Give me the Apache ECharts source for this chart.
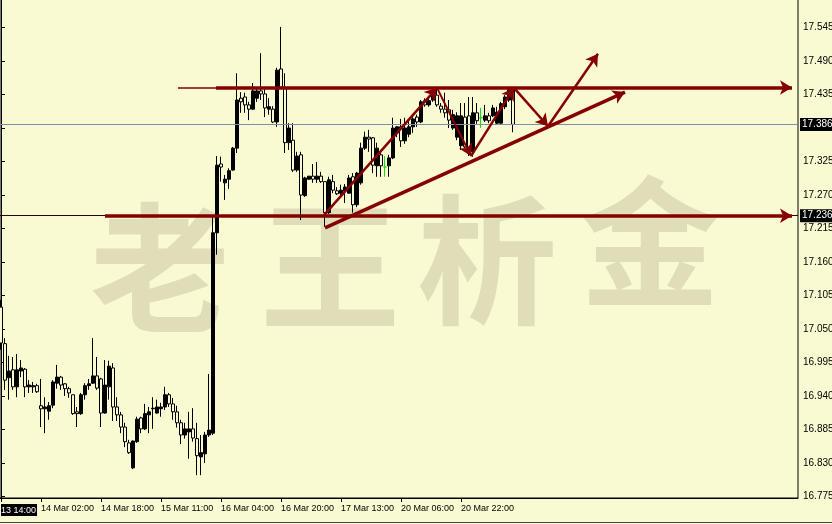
<!DOCTYPE html>
<html>
<head>
<meta charset="utf-8">
<title>老王析金</title>
<script src="https://cdn.jsdelivr.net/npm/echarts@6/dist/echarts.min.js"></script>
<style>
  html, body { margin: 0; padding: 0; background: #fafad2; }
  #main { width: 832px; height: 524px; }
</style>
</head>
<body>
<div id="main"></div>
<script>
// 右侧价格刻度
var yTicks = [16.775, 16.830, 16.885, 16.940, 16.995, 17.050, 17.105, 17.160,
  17.215, 17.270, 17.325, 17.380, 17.435, 17.490, 17.545];
// 底部时间标签（按K线序号）
var xLabelIdx = [0, 10, 25, 40, 55, 70, 85, 100, 115];
var xLabelText = ['13 14:00', '14 Mar 02:00', '14 Mar 18:00', '15 Mar 11:00', '16 Mar 04:00',
  '16 Mar 20:00', '17 Mar 13:00', '20 Mar 06:00', '20 Mar 22:00'];
// K线 [开, 收, 低, 高]
var ohlc = [
  [17.086, 17.027, 17.016, 17.098], [17.026, 16.966, 16.950, 17.035], [16.970, 16.981, 16.934, 17.006],
  [16.983, 16.955, 16.950, 17.004], [16.955, 16.983, 16.938, 17.009], [16.981, 16.986, 16.971, 16.999],
  [16.984, 16.955, 16.938, 16.986], [16.955, 16.958, 16.945, 16.966], [16.955, 16.957, 16.945, 16.963],
  [16.957, 16.947, 16.945, 16.960], [16.924, 16.919, 16.889, 16.968], [16.919, 16.922, 16.879, 16.938],
  [16.915, 16.924, 16.901, 16.930], [16.925, 16.963, 16.920, 16.966], [16.961, 16.971, 16.952, 16.991],
  [16.971, 16.958, 16.950, 16.973], [16.960, 16.952, 16.940, 16.961], [16.952, 16.945, 16.937, 16.955],
  [16.942, 16.911, 16.909, 16.942], [16.914, 16.911, 16.889, 16.922], [16.911, 16.942, 16.909, 16.945],
  [16.942, 16.957, 16.934, 16.961], [16.957, 16.960, 16.950, 16.968], [16.961, 16.973, 16.960, 17.035],
  [16.973, 16.953, 16.950, 17.004], [16.968, 16.912, 16.889, 16.970], [16.912, 16.958, 16.911, 16.999],
  [16.955, 16.989, 16.934, 16.998], [16.986, 16.922, 16.899, 16.994], [16.922, 16.909, 16.899, 16.938],
  [16.909, 16.889, 16.879, 16.914], [16.889, 16.865, 16.856, 16.896], [16.863, 16.847, 16.845, 16.868],
  [16.822, 16.866, 16.820, 16.867], [16.865, 16.902, 16.863, 16.906], [16.904, 16.886, 16.879, 16.906],
  [16.886, 16.911, 16.884, 16.927], [16.909, 16.914, 16.879, 16.922], [16.919, 16.920, 16.886, 16.938],
  [16.912, 16.922, 16.911, 16.934], [16.919, 16.922, 16.906, 16.929], [16.922, 16.942, 16.917, 16.955],
  [16.942, 16.927, 16.922, 16.945], [16.927, 16.914, 16.901, 16.937], [16.914, 16.896, 16.888, 16.924],
  [16.896, 16.876, 16.861, 16.901], [16.876, 16.886, 16.870, 16.896], [16.881, 16.886, 16.837, 16.914],
  [16.886, 16.871, 16.865, 16.920], [16.870, 16.842, 16.810, 16.896], [16.840, 16.847, 16.810, 16.876],
  [16.845, 16.876, 16.830, 16.881], [16.876, 16.884, 16.873, 16.976], [16.879, 17.208, 16.876, 17.234],
  [17.208, 17.319, 17.172, 17.334], [17.321, 17.316, 17.292, 17.333], [17.290, 17.296, 17.262, 17.303],
  [17.296, 17.310, 17.280, 17.314], [17.311, 17.347, 17.310, 17.349], [17.347, 17.426, 17.339, 17.470],
  [17.429, 17.423, 17.405, 17.439], [17.431, 17.418, 17.405, 17.438], [17.418, 17.411, 17.393, 17.423],
  [17.411, 17.441, 17.410, 17.454], [17.429, 17.441, 17.423, 17.447], [17.441, 17.436, 17.426, 17.503],
  [17.436, 17.413, 17.398, 17.447], [17.411, 17.415, 17.402, 17.429], [17.411, 17.390, 17.388, 17.416],
  [17.390, 17.475, 17.382, 17.479], [17.477, 17.447, 17.447, 17.546], [17.447, 17.356, 17.339, 17.470],
  [17.356, 17.380, 17.344, 17.388], [17.360, 17.311, 17.308, 17.388], [17.311, 17.334, 17.308, 17.341],
  [17.336, 17.270, 17.229, 17.341], [17.269, 17.298, 17.267, 17.300], [17.296, 17.301, 17.295, 17.301],
  [17.301, 17.296, 17.290, 17.321], [17.296, 17.301, 17.290, 17.324], [17.301, 17.292, 17.290, 17.308],
  [17.292, 17.241, 17.218, 17.292], [17.241, 17.295, 17.239, 17.300], [17.292, 17.278, 17.273, 17.303],
  [17.277, 17.272, 17.270, 17.283], [17.273, 17.278, 17.267, 17.287], [17.277, 17.283, 17.257, 17.288],
  [17.273, 17.298, 17.273, 17.303], [17.300, 17.254, 17.241, 17.306], [17.254, 17.306, 17.250, 17.308],
  [17.290, 17.347, 17.287, 17.356], [17.347, 17.365, 17.344, 17.374], [17.365, 17.362, 17.341, 17.377],
  [17.364, 17.319, 17.306, 17.365], [17.318, 17.347, 17.300, 17.356], [17.336, 17.318, 17.300, 17.341],
  [17.316, 17.316, 17.300, 17.334], [17.318, 17.331, 17.300, 17.336], [17.331, 17.380, 17.329, 17.397],
  [17.372, 17.382, 17.365, 17.383], [17.382, 17.359, 17.349, 17.395], [17.359, 17.380, 17.354, 17.397],
  [17.370, 17.382, 17.365, 17.393], [17.382, 17.395, 17.372, 17.398], [17.398, 17.390, 17.382, 17.402],
  [17.390, 17.423, 17.388, 17.426], [17.425, 17.418, 17.415, 17.429], [17.418, 17.425, 17.415, 17.431],
  [17.426, 17.439, 17.423, 17.444], [17.434, 17.418, 17.415, 17.443], [17.416, 17.411, 17.405, 17.421],
  [17.411, 17.405, 17.397, 17.438], [17.410, 17.393, 17.380, 17.426], [17.380, 17.402, 17.377, 17.410],
  [17.365, 17.400, 17.360, 17.406], [17.351, 17.400, 17.344, 17.421], [17.398, 17.349, 17.347, 17.421],
  [17.400, 17.339, 17.334, 17.431], [17.341, 17.405, 17.333, 17.431], [17.405, 17.392, 17.387, 17.421],
  [17.397, 17.397, 17.380, 17.413], [17.393, 17.400, 17.390, 17.418], [17.400, 17.392, 17.388, 17.405],
  [17.400, 17.413, 17.398, 17.418], [17.388, 17.406, 17.387, 17.415], [17.388, 17.420, 17.387, 17.423],
  [17.415, 17.431, 17.411, 17.434], [17.426, 17.443, 17.423, 17.446], [17.444, 17.386, 17.373, 17.446]
];
var bidPrice = 17.386;      // 现价线
var supportPrice = 17.236;  // 支撑线
var resistPrice = 17.4466;  // 压力线
// 画线：[起点序号, 起点价, 终点序号, 终点价, 线宽, 是否带箭头]
var arrows = [
  [44.25, resistPrice, 53.75, resistPrice, 1.5, false],
  [53.75, resistPrice, 197.75, resistPrice, 3.5, true],
  [26, supportPrice, 197.75, supportPrice, 3.5, true],
  [80.75, 17.237, 109, 17.446, 2.5, true],
  [109, 17.446, 117.5, 17.334, 2, true],
  [117.5, 17.334, 128.25, 17.446, 2.5, true],
  [128.25, 17.446, 136.75, 17.383, 2.5, true],
  [136.75, 17.383, 149.25, 17.502, 2.5, true],
  [81, 17.216, 156, 17.439, 3.5, true]
];

var bg = '#fafad2';
var red = '#850000';
var doji = '#11dd11';
var axisFont = "'Liberation Sans', sans-serif";

var chart = echarts.init(document.getElementById('main'));

var candleData = ohlc.map(function (d, i) {
  var row = [i].concat(d);
  if (d[0] === d[1]) {
    return { value: row, itemStyle: { color: doji, color0: doji, borderColor: doji, borderColor0: doji, borderColorDoji: doji } };
  }
  return row;
});

function priceLine(p, color) {
  return [
    { coord: [-0.25, p], symbol: 'none', lineStyle: { color: color, width: 1 },
      label: { show: true, position: 'end', distance: 2, formatter: p.toFixed(3),
        backgroundColor: '#000', color: '#fff', padding: [2, 2, 1, 2],
        fontSize: 10, fontFamily: axisFont } },
    { coord: [199.25, p], symbol: 'none' }
  ];
}

var lines = [priceLine(bidPrice, '#7b8fae'), priceLine(supportPrice, '#300000')];
arrows.forEach(function (a) {
  lines.push([
    { coord: [a[0], a[1]], symbol: 'none', lineStyle: { color: red, width: a[4] }, label: { show: false } },
    { coord: [a[2], a[3]], symbol: a[5] ? 'arrow' : 'none', symbolSize: [11, 12] }
  ]);
});

var watermark = [['老', 160, 268], ['王', 330, 266], ['析', 487, 260], ['金', 650, 242]];

var option = {
  backgroundColor: bg,
  animation: false,
  grid: {
    left: 0, right: 34, top: -1, bottom: 26,
    outerBoundsMode: 'none',
    show: true, borderColor: '#000', borderWidth: 1
  },
  graphic: watermark.map(function (w) {
    return {
      type: 'text', x: w[1], y: w[2], z: 0, silent: true,
      style: { text: w[0], fontSize: 140, fontFamily: 'Noto Sans CJK SC', fontWeight: 'bold',
        fill: '#e0deb8', align: 'center', verticalAlign: 'middle' }
    };
  }).concat([{
    type: 'line', silent: true, shape: { x1: 0, y1: 522.5, x2: 832, y2: 522.5 },
    style: { stroke: '#444', lineWidth: 1 }
  }]),
  xAxis: {
    type: 'value',
    min: -0.25,
    max: 199.25,
    splitLine: { show: false },
    axisLine: { show: true, lineStyle: { color: '#000' } },
    axisTick: { show: true, length: 4, customValues: xLabelIdx, lineStyle: { color: '#000' } },
    axisLabel: {
      customValues: xLabelIdx,
      showMinLabel: true,
      showMaxLabel: true,
      hideOverlap: false,
      align: 'left',
      margin: 6,
      color: '#000',
      fontSize: 9,
      fontFamily: axisFont,
      formatter: function (v) {
        var n = xLabelIdx.indexOf(Math.round(v));
        if (n < 0) return '';
        return n === 0 ? '{hl|' + xLabelText[n] + '}' : xLabelText[n];
      },
      rich: {
        hl: { backgroundColor: '#000', color: '#fff', padding: [2, 1, 1, 0], fontSize: 9, fontFamily: axisFont }
      }
    }
  },
  yAxis: {
    type: 'value',
    position: 'right',
    min: 16.7725,
    max: 17.5919,
    scale: true,
    splitLine: { show: false },
    axisLine: { show: true, lineStyle: { color: '#000' } },
    axisTick: { show: true, length: 4, customValues: yTicks, lineStyle: { color: '#000' } },
    axisLabel: {
      customValues: yTicks,
      showMinLabel: true,
      showMaxLabel: true,
      margin: 5,
      color: '#000',
      fontSize: 10,
      fontFamily: axisFont,
      formatter: function (v) { return v.toFixed(3); }
    }
  },
  series: [{
    type: 'candlestick',
    z: 2,
    barWidth: 3,
    data: candleData,
    itemStyle: {
      color: '#000',
      color0: bg,
      borderColor: '#000',
      borderColor0: '#000',
      borderWidth: 1
    },
    markLine: {
      silent: true,
      animation: false,
      symbol: ['none', 'none'],
      label: { show: false },
      emphasis: { disabled: true },
      lineStyle: { type: 'solid' },
      data: lines
    }
  }]
};
chart.setOption(option);
</script>
</body>
</html>
